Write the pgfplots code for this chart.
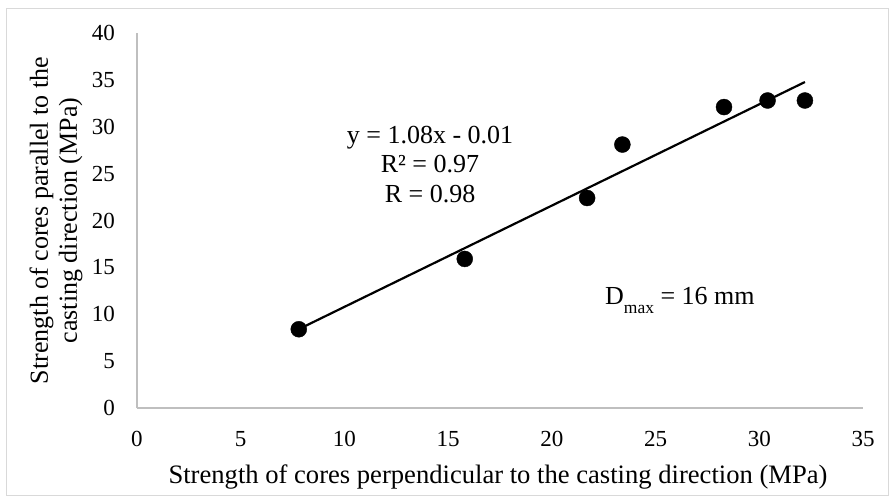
\documentclass[border=0pt]{standalone}
\usepackage{pgfplots}
\pgfplotsset{compat=1.18}
\usepackage{fontspec}
\setmainfont{Liberation Serif}
\definecolor{axgray}{HTML}{BFBFBF}
\definecolor{framegray}{HTML}{D9D9D9}
\begin{document}
\begin{tikzpicture}
\path[use as bounding box] (-137bp,-89bp) rectangle (753bp,408bp);
\draw[framegray, line width=1bp] (-130bp,399bp) rectangle (751bp,-87bp);
\begin{axis}[
  at={(0,0)}, anchor=south west,
  scale only axis,
  width=726bp, height=375bp,
  xmin=0, xmax=35, ymin=0, ymax=40,
  xtick={0,5,...,35}, ytick={0,5,...,40},
  axis x line=bottom, axis y line=left,
  axis line style={axgray, line width=1.6bp, -},
  major tick length=0pt,
  clip=false,
  /pgf/number format/assume math mode=true,
  tick label style={font=\fontsize{23bp}{27bp}\selectfont},
  xticklabel style={anchor=base, inner sep=0pt, yshift=-38bp},
  yticklabel style={anchor=east, inner sep=0pt, xshift=-22bp},
]
\addplot[black, line width=2.2bp, no marks] coordinates {(7.8,8.41) (32.2,34.77)};
\addplot[only marks, mark=*, mark size=8bp, mark options={fill=black, draw=black}] coordinates {
(7.8,8.4) (15.8,15.9) (21.7,22.4) (23.4,28.1) (28.3,32.1) (30.4,32.8) (32.2,32.8)
};
\end{axis}
\node[anchor=base, inner sep=0pt, font=\fontsize{26.6bp}{31bp}\selectfont] at (361bp,-75bp) {Strength of cores perpendicular to the casting direction (MPa)};
\node[anchor=base, rotate=90, inner sep=0pt, font=\fontsize{26bp}{31bp}\selectfont] at (-89bp,187.5bp) {Strength of cores parallel to the};
\node[anchor=base, rotate=90, inner sep=0pt, font=\fontsize{26bp}{31bp}\selectfont] at (-60bp,187.5bp) {casting direction (MPa)};
\node[anchor=base, inner sep=0pt, font=\fontsize{26bp}{30bp}\selectfont] at (293bp,264bp) {y = 1.08x - 0.01};
\node[anchor=base, inner sep=0pt, font=\fontsize{26bp}{30bp}\selectfont] at (293bp,235bp) {R² = 0.97};
\node[anchor=base, inner sep=0pt, font=\fontsize{26bp}{30bp}\selectfont] at (293bp,205bp) {R = 0.98};
\node[anchor=base west, inner sep=0pt, font=\fontsize{26bp}{31bp}\selectfont] at (468bp,103bp) {D\raisebox{-9bp}{\fontsize{17.5bp}{20bp}\selectfont max} = 16 mm};
\end{tikzpicture}
\end{document}
